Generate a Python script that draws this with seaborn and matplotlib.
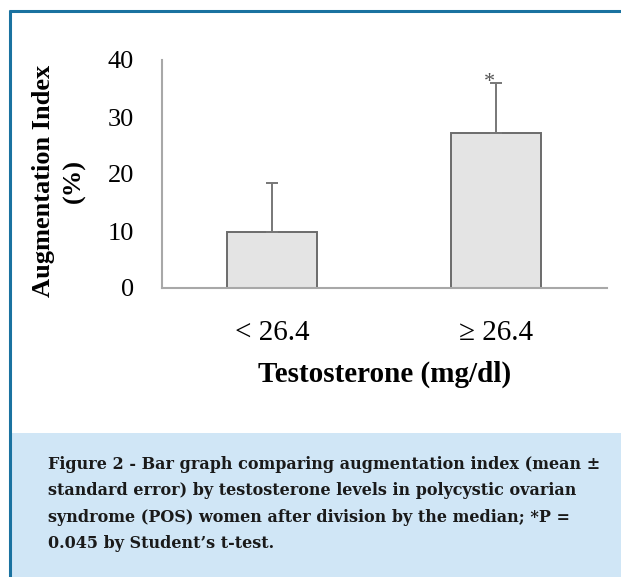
import matplotlib
matplotlib.use("Agg")
import matplotlib.pyplot as plt
import seaborn as sns
import pandas as pd
from matplotlib.patches import Rectangle
from matplotlib.lines import Line2D

# data
groups = ["< 26.4", "\u2265 26.4"]
aix_mean = [9.8, 27.2]
aix_se = [8.6, 8.8]
y_ticks = [0, 10, 20, 30, 40]

caption = ("Figure 2 - Bar graph comparing augmentation index (mean \u00b1\n"
           "standard error) by testosterone levels in polycystic ovarian\n"
           "syndrome (POS) women after division by the median; *P =\n"
           "0.045 by Student\u2019s t-test.")

df = pd.DataFrame({"group": groups, "aix": aix_mean})

sns.set_style("white")
plt.rcParams["font.family"] = ["Liberation Serif", "DejaVu Serif"]
for key in ["text.color", "axes.labelcolor", "xtick.color", "ytick.color"]:
    plt.rcParams[key] = "black"

fig = plt.figure(figsize=(6.21, 5.77), dpi=100)

# frame and caption box
fig.add_artist(Rectangle((11.5 / 621, 0), 1, (577 - 433) / 577,
                         transform=fig.transFigure, fc="#d0e6f6", ec="none", zorder=0))
fig.add_artist(Line2D([8.5 / 621, 1], [1 - 11.3 / 577, 1 - 11.3 / 577],
                      transform=fig.transFigure, color="#1a72a0", lw=2.2,
                      solid_capstyle="butt"))
fig.add_artist(Line2D([10 / 621, 10 / 621], [0, 1 - 10 / 577],
                      transform=fig.transFigure, color="#1a72a0", lw=2.2,
                      solid_capstyle="butt"))

ax = fig.add_axes([162 / 621, 1 - 288 / 577, 445 / 621, 228 / 577])
sns.barplot(data=df, x="group", y="aix", color="#e4e4e4", edgecolor="#6b6b6b",
            linewidth=1.4, width=0.4, errorbar=None, saturation=1, ax=ax)
ax.errorbar([0, 1], aix_mean, yerr=[[0, 0], aix_se], fmt="none",
            ecolor="#777777", elinewidth=1.4, capsize=4, capthick=1.4, zorder=1)
ax.text(0.97, aix_mean[1] + aix_se[1] + 0.1, "*", ha="center", va="center",
        fontsize=16, color="#555555")

ax.set_xlim(-0.49, 1.495)
ax.set_ylim(0, 40)
ax.set_yticks(y_ticks)
ax.tick_params(axis="y", length=0, pad=20, labelsize=19)
ax.tick_params(axis="x", length=0, pad=23, labelsize=21)
for side in ["top", "right"]:
    ax.spines[side].set_visible(False)
for side in ["left", "bottom"]:
    ax.spines[side].set_color("#a8a8a8")
    ax.spines[side].set_linewidth(1.5)

ax.set_xlabel("Testosterone (mg/dl)", fontsize=21, fontweight="bold")
ax.xaxis.set_label_coords(0.5, -0.32)
ax.set_ylabel("Augmentation Index\n(%)", fontsize=19, fontweight="bold",
              linespacing=1.4)
ax.yaxis.set_label_coords(-0.172, 0.47)

fig.text(48 / 621, 1 - 456 / 577, caption, ha="left", va="top",
         fontsize=11.5, fontweight="bold", family="DejaVu Serif",
         color="#1a1a1a", linespacing=1.72)

fig.savefig("out.png", dpi=100)
